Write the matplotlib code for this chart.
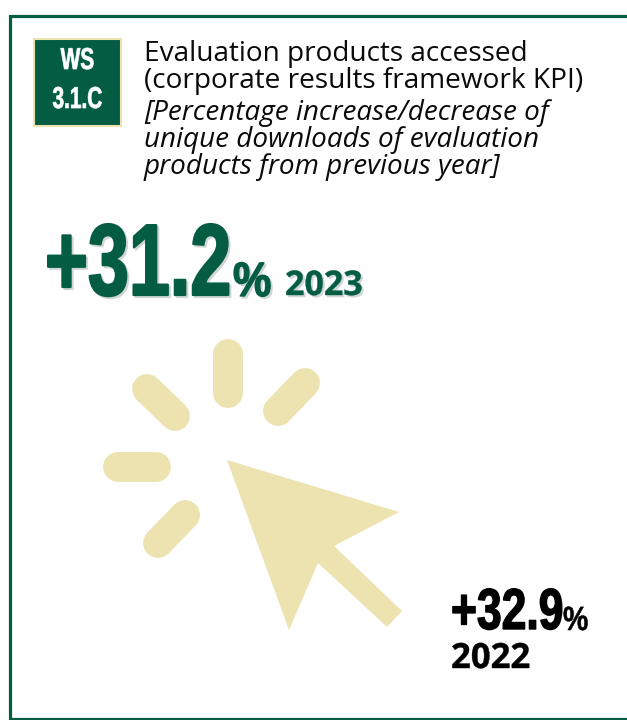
import matplotlib.pyplot as plt
from matplotlib.patches import Polygon, Rectangle
from matplotlib.transforms import Affine2D
import matplotlib.patheffects as pe

GREEN = "#045c43"
SAND = "#ece3b1"

badge_lines = ["WS", "3.1.C"]
title_lines = ["Evaluation products accessed", "(corporate results framework KPI)"]
note_lines = ["[Percentage increase/decrease of", "unique downloads of evaluation", "products from previous year]"]
values = ["+31.2", "+32.9"]
years = ["2023", "2022"]


class Tall(pe.AbstractPathEffect):
    # no condensed font here, so stretch the glyphs upwards and thicken them
    def __init__(self, sy, color, lw=0.0, shadow=None):
        super().__init__()
        self.sy = sy
        self.color = color
        self.lw = lw
        self.shadow = shadow

    def draw_path(self, renderer, gc, tpath, affine, rgbFace=None):
        m = affine.get_matrix().copy()
        m[1, 1] *= self.sy
        if self.shadow:
            s = m.copy()
            s[0, 2] += self.shadow
            s[1, 2] -= self.shadow
            gc1 = renderer.new_gc()
            gc1.copy_properties(gc)
            gc1.set_linewidth(self.lw)
            gc1.set_foreground("#cfd6d3")
            renderer.draw_path(gc1, tpath, Affine2D(s), (0.81, 0.84, 0.83, 1))
            gc1.restore()
        gc0 = renderer.new_gc()
        gc0.copy_properties(gc)
        gc0.set_linewidth(self.lw)
        gc0.set_foreground(self.color)
        renderer.draw_path(gc0, tpath, Affine2D(m), rgbFace)
        gc0.restore()


fig = plt.figure(figsize=(6.27, 7.2), dpi=100)
ax = fig.add_axes([0, 0, 1, 1])
ax.set_xlim(0, 627)
ax.set_ylim(720, 0)
ax.axis("off")

# faint boxes behind the numbers
ax.add_patch(Rectangle((205, 250), 175, 80, fc="#fefefe", ec="none"))
ax.add_patch(Rectangle((428, 622), 125, 76, fc="#fefefe", ec="none"))

# frame, runs off the right side
ax.plot([640, 9.5, 9.5, 640], [16, 16, 718.5, 718.5], color=GREEN, lw=2.3, solid_joinstyle="miter")

# badge
ax.add_patch(Rectangle((34, 39), 87, 87, fc=GREEN, ec=SAND, lw=1.5))
for y, line in zip([69, 108], badge_lines):
    ax.text(77.5, y, line, color="white", family="Liberation Sans", weight="bold", fontsize=15,
            ha="center", va="baseline", path_effects=[Tall(1.45, "white", 0.5)])

# heading
for y, line in zip([61, 88], title_lines):
    ax.text(144, y, line, family="Open Sans", fontsize=20.15, color="#0a0a0a", va="baseline")
for y, line in zip([120, 147, 174], note_lines):
    ax.text(144, y, line, family="Open Sans", style="italic", fontsize=20.05, color="#0a0a0a", va="baseline")

# 2023 figures
ax.text(45, 295, values[0], family="Liberation Sans", weight="bold", fontsize=53, color=GREEN, va="baseline",
        path_effects=[Tall(1.38, GREEN, 1.6, shadow=2)])
ax.text(233, 296, "%", family="Liberation Sans", weight="bold", fontsize=31, color=GREEN, va="baseline",
        path_effects=[Tall(1.12, GREEN, 1.0, shadow=2)])
ax.text(285, 295, years[0], family="Open Sans", weight="bold", fontsize=24.5, color=GREEN, va="baseline",
        path_effects=[Tall(1.0, GREEN, 0.3, shadow=2)])

# 2022 figures
ax.text(451, 629, values[1], family="Liberation Sans", weight="bold", fontsize=32, color="black", va="baseline",
        path_effects=[Tall(1.3, "black", 1.0)])
ax.text(563, 630, "%", family="Liberation Sans", weight="bold", fontsize=20.5, color="black", va="baseline",
        path_effects=[Tall(1.18, "black", 0.4)])
ax.text(451, 668, years[1], family="Open Sans", weight="bold", fontsize=25, color="black", va="baseline",
        path_effects=[Tall(1.0, "black", 0.3)])

# click icon
rays = [((228, 354), (228, 393)), ((305, 383), (278, 411)), ((147, 389), (175, 416)),
        ((118, 467), (156, 467)), ((185, 515), (158, 543))]
for a, b in rays:
    ax.plot([a[0], b[0]], [a[1], b[1]], color=SAND, lw=21.5, solid_capstyle="round")
cursor = [(227, 460), (399, 512), (334, 546), (402, 611), (387, 627), (318, 563), (289, 630)]
ax.add_patch(Polygon(cursor, closed=True, fc=SAND, ec="none"))

fig.savefig("out.png", dpi=100)
